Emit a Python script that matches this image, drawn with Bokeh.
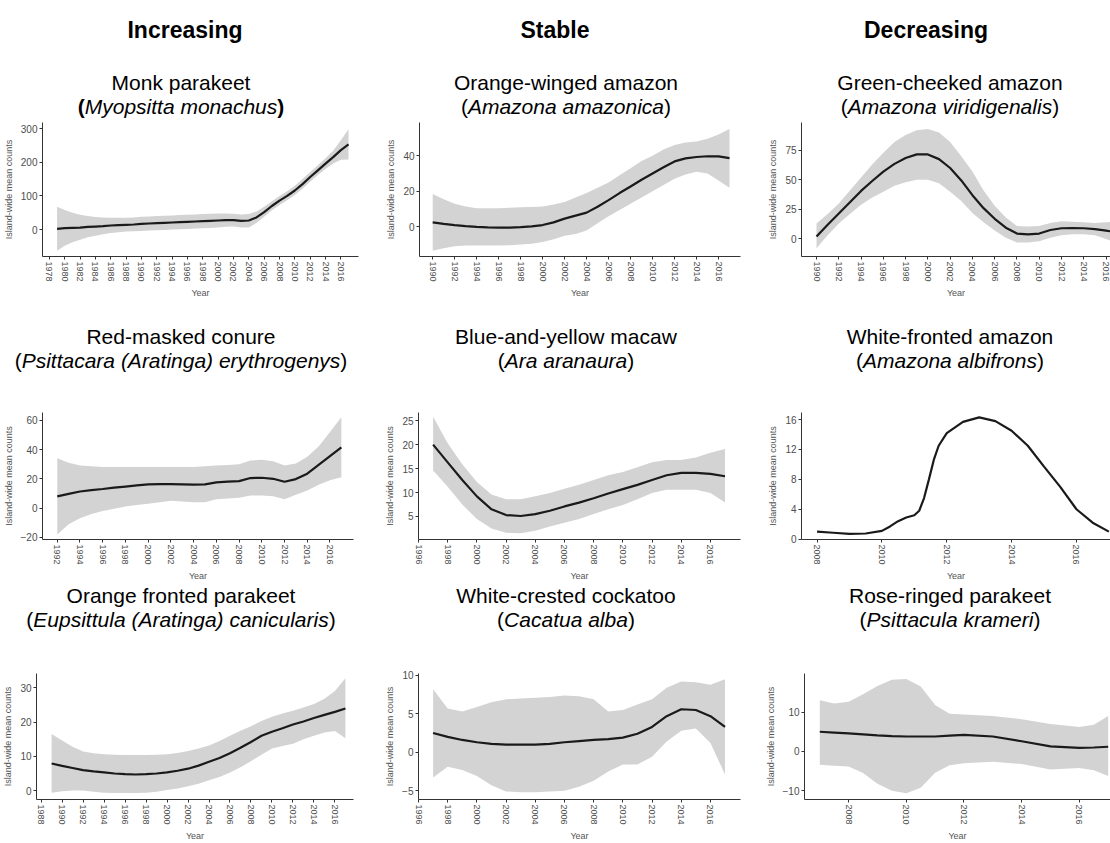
from bokeh.plotting import figure
from bokeh.layouts import column, row
from bokeh.models import Range1d, FixedTicker, Div
from bokeh.embed import file_html
from bokeh.resources import INLINE

FONT = "Liberation Sans"

# ---------------- text ----------------
headings = ["Increasing", "Stable", "Decreasing"]
common_names = [
    ["Monk parakeet", "Orange-winged amazon", "Green-cheeked amazon"],
    ["Red-masked conure", "Blue-and-yellow macaw", "White-fronted amazon"],
    ["Orange fronted parakeet", "White-crested cockatoo", "Rose-ringed parakeet"],
]
species_names = [
    ["Myopsitta monachus", "Amazona amazonica", "Amazona viridigenalis"],
    ["Psittacara (Aratinga) erythrogenys", "Ara aranaura", "Amazona albifrons"],
    ["Eupsittula (Aratinga) canicularis", "Cacatua alba", "Psittacula krameri"],
]
x_label = "Year"
y_label = "Island-wide mean counts"

# ---------------- data ----------------
monk_years = list(range(1979, 2018))
monk_mean = [2, 4, 5, 6, 8, 9, 10, 12, 13, 14, 15, 17, 18, 19, 20, 21, 22, 23, 24, 25,
             26, 27, 28, 28, 26, 27, 36, 52, 70, 86, 100, 116, 135, 156, 176, 196, 215, 236, 253]
monk_lo = [-63, -48, -38, -30, -23, -18, -14, -10, -8, -6, -5, -4, -3, -2, -1, 0, 1, 2, 3, 4,
           5, 6, 8, 9, 6, 6, 20, 38, 57, 73, 87, 103, 121, 142, 162, 180, 196, 207, 208]
monk_hi = [68, 58, 50, 44, 40, 37, 36, 35, 35, 35, 36, 38, 39, 40, 41, 42, 43, 44, 45, 46,
           47, 48, 48, 47, 45, 46, 54, 68, 84, 100, 114, 130, 150, 171, 191, 212, 234, 265, 298]

orange_winged_years = list(range(1990, 2018))
orange_winged_mean = [2.5, 1.7, 1.0, 0.4, 0.0, -0.3, -0.5, -0.4, -0.2, 0.2, 1.0, 2.5, 4.6, 6.3,
                      8.0, 11.3, 15.0, 19.0, 22.7, 26.5, 30.0, 33.5, 36.8, 38.5, 39.3, 39.7, 39.6, 38.7]
orange_winged_lo = [-13.5, -12, -11, -10.5, -10.5, -10.5, -10.5, -10.3, -10, -9.5, -8.5, -7, -5, -4,
                    -2, 2, 6, 9.5, 13, 16.5, 20, 23.5, 27, 29.5, 31, 30, 26, 22]
orange_winged_hi = [18.5, 15.5, 13, 11.5, 10.5, 10.5, 10.5, 10.8, 11, 11.2, 11.5, 12.5, 14, 16.5,
                    19, 22, 25, 29, 33, 37, 40, 43.5, 46, 47.5, 48, 49.5, 52, 55]

green_cheeked_years = list(range(1990, 2018))
green_cheeked_mean = [2, 12, 21.5, 31, 40.6, 49, 57, 63.5, 68.5, 71.5, 71.5, 67.5, 60, 49.5,
                      37, 26, 17, 9.5, 4.5, 3.8, 4.5, 7.5, 9, 9.2, 9, 8.3, 7, 5.5]
green_cheeked_lo = [-8, 3, 13, 21, 29, 35, 40, 45, 48, 50, 50, 47, 40, 32,
                    22, 14, 7, 1, -3, -3, -2, 1, 3, 4, 4, 3, 0, -4]
green_cheeked_hi = [13, 21, 30, 41, 52, 63, 73, 82, 88, 92, 93, 90, 82, 70,
                    57, 41, 28, 18, 11, 10.5, 11, 13.5, 15, 14.5, 14, 13.5, 14, 15]

red_masked_years = list(range(1992, 2018))
red_masked_mean = [8, 9.7, 11.3, 12.2, 13, 13.9, 14.7, 15.5, 16.2, 16.3, 16.4, 16.2, 16,
                   16.2, 17.5, 18, 18.4, 20.5, 20.7, 20, 18, 19.8, 23.5, 29.5, 35.5, 41.5]
red_masked_lo = [-18, -11, -7, -4, -2, -0.5, 1, 2, 3, 4, 5, 4.5, 4,
                 4, 6, 6.5, 7, 8.5, 8.5, 8, 6, 9, 12, 16, 19, 21]
red_masked_hi = [34, 31, 29, 28.5, 28, 28, 28, 28, 28, 28, 28, 28, 28,
                 28.5, 29, 29.5, 30, 32.5, 33, 32, 29, 30.5, 35, 42, 52, 62]

macaw_years = list(range(1997, 2018))
macaw_mean = [20, 16.3, 12.6, 9.2, 6.5, 5.3, 5.1, 5.5, 6.2, 7.1, 7.9, 8.8, 9.8, 10.7,
              11.6, 12.6, 13.6, 14.1, 14.1, 13.9, 13.4]
macaw_lo = [14.6, 11.2, 7.5, 4.5, 2.5, 1.6, 1.5, 2.0, 2.9, 3.7, 4.5, 5.5, 6.5, 7.4,
            8.6, 9.9, 10.6, 10.6, 10.6, 9.9, 7.9]
macaw_hi = [25.8, 20.3, 15.9, 12.2, 9.6, 8.6, 8.6, 9.2, 9.9, 10.8, 11.6, 12.6, 13.6, 14.3,
            15.3, 16.3, 16.8, 16.8, 17.3, 18.3, 19.1]

white_fronted_years = [2008, 2008.5, 2009, 2009.5, 2010, 2010.25, 2010.5, 2010.75, 2011, 2011.15,
                       2011.3, 2011.45, 2011.6, 2011.75, 2012, 2012.5, 2013, 2013.5, 2014, 2014.5,
                       2015, 2015.5, 2016, 2016.5, 2017]
white_fronted_mean = [1.0, 0.85, 0.7, 0.75, 1.1, 1.7, 2.4, 2.9, 3.2, 3.8,
                      5.5, 8.0, 10.6, 12.5, 14.2, 15.7, 16.3, 15.8, 14.5, 12.5,
                      9.7, 7.0, 4.0, 2.2, 1.0]

orange_fronted_years = list(range(1989, 2018))
orange_fronted_mean = [7.9, 7.2, 6.6, 6.0, 5.6, 5.3, 5.0, 4.8, 4.7, 4.8, 5.0, 5.3, 5.8, 6.4, 7.3,
                       8.4, 9.5, 10.9, 12.5, 14.2, 16.0, 17.2, 18.2, 19.3, 20.2, 21.2, 22.1, 23.0, 24.0]
orange_fronted_lo = [-0.6, -0.2, 0.0, 0.0, -0.3, -0.6, -0.7, -0.7, -0.7, -0.6, -0.3, 0.2, 0.6, 1.3, 2.0,
                     3.0, 4.0, 5.3, 6.8, 8.6, 10.5, 12.3, 13.0, 13.7, 15.0, 16.0, 17.0, 17.4, 15.3]
orange_fronted_hi = [16.5, 14.6, 12.8, 11.4, 10.9, 10.6, 10.5, 10.4, 10.4, 10.4, 10.5, 10.6, 11.0, 11.6, 12.3,
                     13.2, 14.5, 16.0, 17.5, 18.8, 20.3, 21.6, 22.5, 23.3, 24.3, 25.3, 26.8, 29.1, 32.8]

cockatoo_years = list(range(1997, 2018))
cockatoo_mean = [2.5, 2.0, 1.6, 1.3, 1.1, 1.0, 1.0, 1.0, 1.1, 1.3, 1.45, 1.6, 1.7, 1.9,
                 2.4, 3.3, 4.7, 5.6, 5.5, 4.7, 3.3]
cockatoo_lo = [-3.3, -1.9, -2.3, -3.1, -4.3, -5.1, -5.2, -5.2, -5.1, -5.0, -4.5, -3.7, -2.5, -1.6,
               -1.6, -0.6, 1.4, 2.8, 3.1, 1.2, -2.9]
cockatoo_hi = [8.2, 5.7, 5.3, 5.9, 6.5, 6.9, 7.0, 7.1, 7.2, 7.4, 7.3, 6.9, 5.3, 5.5,
               6.2, 6.9, 8.4, 9.2, 9.1, 8.8, 9.5]

rose_ringed_years = [2007, 2007.5, 2008, 2008.5, 2009, 2009.5, 2010, 2010.5, 2011, 2011.5,
                     2012, 2013, 2014, 2015, 2016, 2016.5, 2017]
rose_ringed_mean = [5.0, 4.8, 4.6, 4.35, 4.1, 3.9, 3.8, 3.8, 3.8, 4.0,
                    4.2, 3.8, 2.6, 1.3, 0.9, 1.0, 1.2]
rose_ringed_lo = [-3.4, -3.6, -3.8, -5.5, -8.2, -10.0, -10.6, -9.2, -5.4, -3.5,
                  -3.0, -2.6, -3.2, -4.6, -4.2, -4.8, -6.2]
rose_ringed_hi = [13.0, 12.2, 12.6, 14.5, 16.6, 18.2, 18.4, 16.5, 11.8, 9.6,
                  9.4, 9.0, 8.2, 7.0, 6.2, 6.8, 9.0]

# tick values
x_ticks = [
    [list(range(1978, 2017, 2)), list(range(1990, 2017, 2)), list(range(1990, 2017, 2))],
    [list(range(1992, 2017, 2)), list(range(1996, 2017, 2)), list(range(2008, 2017, 2))],
    [list(range(1988, 2017, 2)), list(range(1996, 2017, 2)), list(range(2008, 2017, 2))],
]
y_ticks = [
    [[0, 100, 200, 300], [0, 20, 40], [0, 25, 50, 75]],
    [[-20, 0, 20, 40, 60], [5, 10, 15, 20, 25], [0, 4, 8, 12, 16]],
    [[0, 10, 20, 30], [-5, 0, 5, 10], [-10, 0, 10]],
]
x_limits = [
    [(1977.1, 2018.3), (1988.8, 2018.0), (1988.65, 2016.4)],
    [(1990.7, 2018.07), (1996.0, 2018.06), (2007.52, 2017.05)],
    [(1987.56, 2017.77), (1996.0, 2018.06), (2006.47, 2017.08)],
]
y_limits = [
    [(-80, 318), (-16.7, 58.7), (-14.9, 98.5)],
    [(-21.5, 65.3), (0.2, 26.7), (-0.05, 16.95)],
    [(-2.6, 34.2), (-6.15, 10.25), (-12.2, 19.8)],
]

series = [
    [(monk_years, monk_mean, monk_lo, monk_hi),
     (orange_winged_years, orange_winged_mean, orange_winged_lo, orange_winged_hi),
     (green_cheeked_years, green_cheeked_mean, green_cheeked_lo, green_cheeked_hi)],
    [(red_masked_years, red_masked_mean, red_masked_lo, red_masked_hi),
     (macaw_years, macaw_mean, macaw_lo, macaw_hi),
     (white_fronted_years, white_fronted_mean, None, None)],
    [(orange_fronted_years, orange_fronted_mean, orange_fronted_lo, orange_fronted_hi),
     (cockatoo_years, cockatoo_mean, cockatoo_lo, cockatoo_hi),
     (rose_ringed_years, rose_ringed_mean, rose_ringed_lo, rose_ringed_hi)],
]

# ---------------- layout ----------------
TOTAL_W = 1110
col_widths = [370, 375, 365]
title_centers = [181, 566, 950]
heading_centers = [185, 555, 926]
strip_heights = [121, 96, 84]
plot_heights = [189, 177, 176]
title_tops = [70.5, 14.8, 0.8]
heading_top = 16
borders_left = [[40, 49, 56], [36, 48, 56], [33, 48, 59]]
borders_right = [[12, 5, 0], [17, 5, 0], [17, 5, 0]]
borders_top = [1, 6, 6]
borders_bottom = [54, 40, 38]


def strip(r):
    h = strip_heights[r]
    parts = [f'<div style="position:relative;width:{TOTAL_W}px;height:{h}px;overflow:hidden;'
             f'font-family:\'{FONT}\',Arial,sans-serif;color:#000;">']
    if r == 0:
        for c in range(3):
            hc = heading_centers[c]
            parts.append(
                f'<div style="position:absolute;left:{hc - 130}px;top:{heading_top}px;width:260px;'
                f'text-align:center;font-size:23px;font-weight:bold;line-height:28px;'
                f'white-space:nowrap;">{headings[c]}</div>')
    for c in range(3):
        cx = title_centers[c]
        half = min(cx, TOTAL_W - cx, 200)
        if r == 0 and c == 0:
            op, cp = "<b>(</b>", "<b>)</b>"
        else:
            op, cp = "(", ")"
        parts.append(
            f'<div style="position:absolute;left:{cx - half}px;top:{title_tops[r]}px;width:{2 * half}px;'
            f'text-align:center;font-size:21px;line-height:24.5px;white-space:nowrap;">'
            f'{common_names[r][c]}<br>{op}<i>{species_names[r][c]}</i>{cp}</div>')
    parts.append('</div>')
    return Div(text="".join(parts), width=TOTAL_W, height=h, margin=(0, 0, 0, 0))


def panel(r, c):
    xs, mean, lo, hi = series[r][c]
    p = figure(width=col_widths[c], height=plot_heights[r],
               x_range=Range1d(*x_limits[r][c]), y_range=Range1d(*y_limits[r][c]),
               output_backend="svg", toolbar_location=None,
               min_border_left=borders_left[r][c], min_border_right=borders_right[r][c],
               min_border_top=borders_top[r], min_border_bottom=borders_bottom[r])
    p.grid.visible = False
    p.outline_line_color = None
    p.background_fill_color = "white"
    p.border_fill_color = "white"
    if lo is not None:
        p.varea(x=xs, y1=lo, y2=hi, fill_color="#d3d3d3", fill_alpha=1.0)
    p.line(xs, mean, line_color="#1a1a1a", line_width=2.2)

    xa = p.xaxis[0]
    ya = p.yaxis[0]
    xa.ticker = FixedTicker(ticks=x_ticks[r][c])
    ya.ticker = FixedTicker(ticks=y_ticks[r][c])
    xa.major_label_orientation = "vertical"
    xa.axis_label = x_label
    ya.axis_label = y_label
    for ax in (xa, ya):
        ax.axis_line_color = "#333333"
        ax.axis_line_width = 1
        ax.major_tick_line_color = "#333333"
        ax.minor_tick_line_color = None
        ax.major_tick_in = 0
        ax.major_tick_out = 3
        ax.major_label_text_font = FONT
        ax.major_label_text_color = "#4d4d4d"
        ax.axis_label_text_font = FONT
        ax.axis_label_text_font_style = "normal"
        ax.axis_label_text_color = "#555555"
        ax.axis_label_text_font_size = "9px"
        ax.major_label_standoff = 2
    xa.major_label_text_font_size = "9px"
    ya.major_label_text_font_size = "10px"
    xa.axis_label_standoff = 3
    ya.axis_label_standoff = 4
    return p


blocks = []
for r in range(3):
    blocks.append(strip(r))
    blocks.append(row(*[panel(r, c) for c in range(3)]))

layout = column(*blocks)

with open("out.html", "w") as f:
    f.write(file_html(layout, INLINE))
